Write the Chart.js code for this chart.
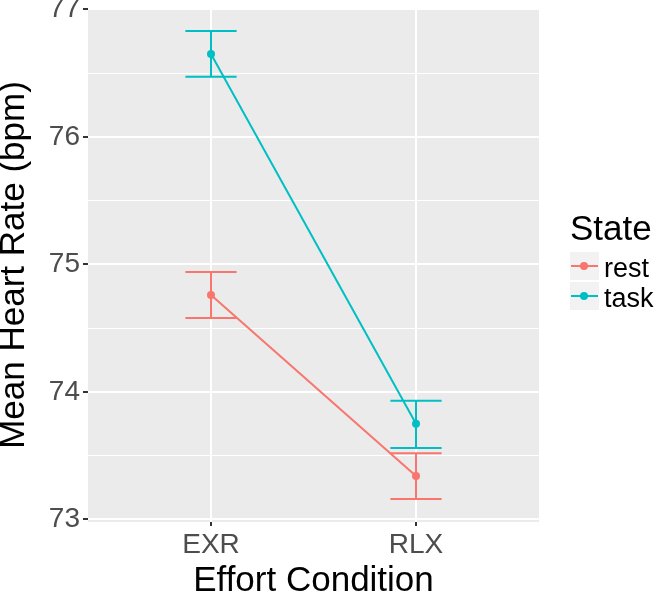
<!DOCTYPE html>
<html>
<head>
<meta charset="utf-8">
<script src="https://cdn.jsdelivr.net/npm/chart.js@4.4.1/dist/chart.umd.min.js"></script>
<style>
    body { margin: 0; background: #fff; }
    #wrap { position: relative; width: 656px; height: 597px; font-family: "Liberation Sans", Arial, sans-serif; overflow: hidden; }
    #legend { position: absolute; left: 570px; top: 0; }
    .lg-title { position: absolute; left: 0; top: 210px; font-size: 35px; line-height: 35px; color: #000; white-space: nowrap; }
    .lg-key { position: absolute; left: 0; width: 29px; height: 28px; background: #F2F2F2; }
    .lg-key .ln { position: absolute; left: 1px; right: 1px; top: 13px; height: 2px; }
    .lg-key .dot { position: absolute; left: 10px; top: 10px; width: 8px; height: 8px; border-radius: 50%; }
    .lg-label { position: absolute; left: 34px; font-size: 27px; line-height: 27px; color: #000; white-space: nowrap; }
</style>
</head>
<body>
<div id="wrap">
    <canvas id="chart" width="656" height="597"></canvas>
    <div id="legend"></div>
</div>
<script>
// Data
const categories = ['EXR', 'RLX'];
const seriesNames = ['rest', 'task'];
const restMean = [74.76, 73.34];
const restLow = [74.58, 73.16];
const restHigh = [74.94, 73.52];
const taskMean = [76.65, 73.75];
const taskLow = [76.47, 73.56];
const taskHigh = [76.83, 73.93];
const yTicks = [73, 73.5, 74, 74.5, 75, 75.5, 76, 76.5, 77];

const colors = { rest: '#F8766D', task: '#00BFC4' };
const barHalf = 0.125;
const font = '"Liberation Sans", Arial, sans-serif';

function meanPoints(vals) {
    return vals.map((v, i) => ({ x: i + 1, y: v }));
}

// error bar segments, separated by gaps
function errorPoints(low, high) {
    const pts = [];
    categories.forEach((c, i) => {
        const x = i + 1;
        pts.push({ x: x - barHalf, y: high[i] }, { x: x + barHalf, y: high[i] }, { x: x, y: null });
        pts.push({ x: x, y: high[i] }, { x: x, y: low[i] }, { x: x, y: null });
        pts.push({ x: x - barHalf, y: low[i] }, { x: x + barHalf, y: low[i] }, { x: x, y: null });
    });
    return pts;
}

const lineStyle = (color) => ({
    borderColor: color,
    backgroundColor: color,
    borderWidth: 2,
    showLine: true,
    spanGaps: false
});

const datasets = [
    Object.assign({ data: errorPoints(restLow, restHigh), pointRadius: 0 }, lineStyle(colors.rest)),
    Object.assign({ data: errorPoints(taskLow, taskHigh), pointRadius: 0 }, lineStyle(colors.task)),
    Object.assign({ label: 'rest', data: meanPoints(restMean), pointRadius: 4, pointBorderWidth: 0 }, lineStyle(colors.rest)),
    Object.assign({ label: 'task', data: meanPoints(taskMean), pointRadius: 4, pointBorderWidth: 0 }, lineStyle(colors.task))
];

const panelBg = {
    id: 'panelBg',
    beforeDraw(chart) {
        const a = chart.chartArea;
        const ctx = chart.ctx;
        ctx.save();
        ctx.fillStyle = '#EBEBEB';
        ctx.fillRect(a.left, a.top, a.right - a.left, a.bottom - a.top);
        ctx.restore();
    }
};

const isMajor = v => Math.abs(v - Math.round(v)) < 1e-6;

new Chart(document.getElementById('chart'), {
    type: 'scatter',
    data: { datasets: datasets },
    options: {
        responsive: false,
        animation: false,
        layout: { padding: { top: 8, right: 117, left: 0, bottom: 0 } },
        plugins: {
            legend: { display: false },
            tooltip: { enabled: false }
        },
        scales: {
            x: {
                type: 'linear',
                min: 0.4,
                max: 2.6,
                afterBuildTicks: s => { s.ticks = categories.map((c, i) => ({ value: i + 1 })); },
                afterFit: s => { s.height = 75; s.paddingLeft = 0; s.paddingRight = 0; },
                border: { display: false },
                grid: { color: '#FFFFFF', lineWidth: 2, tickColor: '#333333', tickLength: 4, tickWidth: 2 },
                ticks: {
                    autoSkip: false,
                    maxRotation: 0,
                    padding: 2,
                    color: '#4D4D4D',
                    font: { family: font, size: 28 },
                    callback: v => categories[Math.round(v) - 1]
                },
                title: {
                    display: true,
                    text: 'Effort Condition',
                    color: '#000',
                    padding: 0,
                    font: { family: font, size: 35, lineHeight: 0.92 }
                }
            },
            y: {
                min: 72.98,
                max: 77.01,
                afterBuildTicks: s => { s.ticks = yTicks.map(v => ({ value: v })); },
                afterFit: s => { s.width = 88; s.paddingTop = 0; s.paddingBottom = 0; },
                border: { display: false },
                grid: {
                    color: '#FFFFFF',
                    lineWidth: c => isMajor(c.tick.value) ? 2 : 1,
                    tickColor: c => isMajor(c.tick.value) ? '#333333' : 'rgba(0,0,0,0)',
                    tickLength: 5,
                    tickWidth: 2
                },
                ticks: {
                    autoSkip: false,
                    padding: 3,
                    color: '#4D4D4D',
                    font: { family: font, size: 28 },
                    callback: v => isMajor(v) ? String(Math.round(v)) : ''
                },
                title: {
                    display: true,
                    text: 'Mean Heart Rate (bpm)',
                    color: '#000',
                    padding: 0,
                    font: { family: font, size: 35, lineHeight: 0.8 }
                }
            }
        }
    },
    plugins: [panelBg]
});

// legend
const legend = document.getElementById('legend');
let html = '<div class="lg-title">State</div>';
seriesNames.forEach((name, i) => {
    const top = 252 + i * 30;
    html += '<div class="lg-key" style="top:' + top + 'px"><div class="ln" style="background:' + colors[name] + '"></div>' +
        '<div class="dot" style="background:' + colors[name] + '"></div></div>';
    html += '<div class="lg-label" style="top:' + (top + 3) + 'px">' + name + '</div>';
});
legend.innerHTML = html;
</script>
</body>
</html>
